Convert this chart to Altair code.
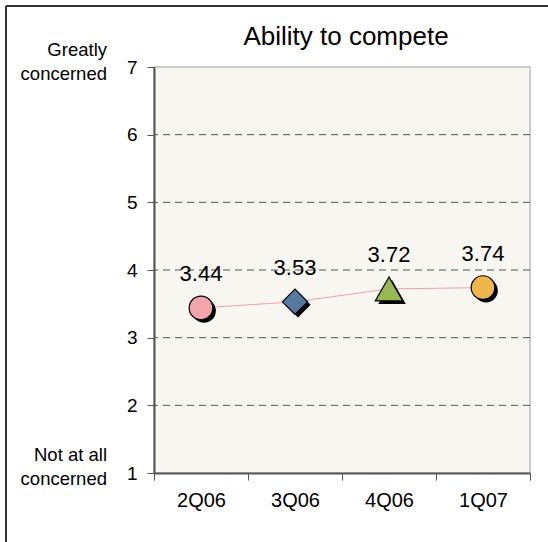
import altair as alt
import pandas as pd

title_text = ["Ability to compete"]
quarters = ["2Q06", "3Q06", "4Q06", "1Q07"]
values = [3.44, 3.53, 3.72, 3.74]
labels = ["3.44", "3.53", "3.72", "3.74"]
shapes = ["circle", "diamond", "triangle-up", "circle"]
colors = ["#f2a5ab", "#57789f", "#97b855", "#efb74b"]
sizes = [560, 640, 760, 560]
grid_values = [2, 3, 4, 5, 6]
y_ticks = [1, 2, 3, 4, 5, 6, 7]
top_note = ["Greatly", "concerned"]
bottom_note = ["Not at all", "concerned"]

FONT = "Liberation Sans"

df = pd.DataFrame({"q": quarters, "v": values, "lab": labels, "shape": shapes, "size": sizes})
grid_df = pd.DataFrame({"v": grid_values})

xscale = alt.Scale(domain=quarters, paddingInner=0, paddingOuter=0)
yscale = alt.Scale(domain=[1, 7], nice=False, zero=False)

x_enc = alt.X("q:N", scale=xscale, sort=quarters, title=None,
              axis=alt.Axis(labelAngle=0, tickBand="extent", labelFont=FONT, labelFontSize=20,
                            labelColor="#000", domainColor="#555", domainWidth=2,
                            tickColor="#555", tickSize=7, tickWidth=1, labelPadding=10, grid=False))
y_enc = alt.Y("v:Q", scale=yscale, title=None,
              axis=alt.Axis(values=y_ticks, format="d", labelFont=FONT, labelFontSize=19,
                            labelColor="#000", domainColor="#555", domainWidth=2,
                            tickColor="#555", tickSize=7, tickWidth=1, labelPadding=10, grid=False))

grid = alt.Chart(grid_df).mark_rule(color="#555", strokeDash=[7, 5], strokeWidth=1).encode(y=y_enc)

line = alt.Chart(df).mark_line(color="#f2a0a8", strokeWidth=1).encode(x=x_enc, y=y_enc)

shadow = alt.Chart(df).mark_point(filled=True, color="#000", opacity=1, xOffset=3, yOffset=3).encode(
    x=alt.X("q:N", scale=xscale, sort=quarters),
    y=alt.Y("v:Q", scale=yscale),
    shape=alt.Shape("q:N", scale=alt.Scale(domain=quarters, range=shapes), legend=None),
    size=alt.Size("size:Q", scale=None, legend=None))

points = alt.Chart(df).mark_point(filled=True, opacity=1, stroke="#000", strokeWidth=1.2).encode(
    x=alt.X("q:N", scale=xscale, sort=quarters),
    y=alt.Y("v:Q", scale=yscale),
    shape=alt.Shape("q:N", scale=alt.Scale(domain=quarters, range=shapes), legend=None),
    color=alt.Color("q:N", scale=alt.Scale(domain=quarters, range=colors), legend=None),
    size=alt.Size("size:Q", scale=None, legend=None))

text = alt.Chart(df).mark_text(font=FONT, fontSize=22, dy=-34, color="#000").encode(
    x=alt.X("q:N", scale=xscale, sort=quarters),
    y=alt.Y("v:Q", scale=yscale),
    text="lab:N")

ann_top = alt.Chart(pd.DataFrame({"t": [top_note]})).mark_text(
    font=FONT, fontSize=18.5, align="right", baseline="middle", lineHeight=24, dy=-17
).encode(x=alt.value(-47), y=alt.datum(7), text="t")
ann_bot = alt.Chart(pd.DataFrame({"t": [bottom_note]})).mark_text(
    font=FONT, fontSize=18.5, align="right", baseline="middle", lineHeight=24, dy=-18
).encode(x=alt.value(-47), y=alt.datum(1), text="t")

title = alt.Chart(pd.DataFrame({"t": title_text})).mark_text(
    font=FONT, fontSize=26, align="center", baseline="alphabetic", color="#000"
).encode(x=alt.value(192), y=alt.value(-22), text="t")

frame_left = alt.Chart(df).mark_rule(color="#333", strokeWidth=1.5).encode(
    x=alt.value(-148), y=alt.value(-61), y2=alt.value(480))
frame_top = alt.Chart(df).mark_rule(color="#333", strokeWidth=1.5).encode(
    x=alt.value(-148), x2=alt.value(400), y=alt.value(-61))

chart = alt.layer(grid, line, shadow, points, text, ann_top, ann_bot, title, frame_left, frame_top).properties(
    width=376, height=406,
    autosize=alt.AutoSizeParams(type="none"),
    padding={"left": 154, "top": 67, "right": 18, "bottom": 69},
    background="#ffffff",
).configure_view(fill="#f7f6f1", stroke="#bdbdbd", strokeWidth=1.5)

chart.save("out.html", embed_options={"renderer": "svg", "actions": False})
